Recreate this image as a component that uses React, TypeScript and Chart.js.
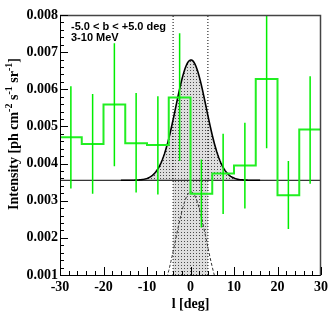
import React, { useEffect, useRef } from "react";
import { Chart, registerables } from "chart.js";

Chart.register(...registerables);

// ---- data ----
const binEdges = [-30, -25, -20, -15, -10, -5, 0, 5, 10, 15, 20, 25, 30];
const binValues = [0.00471, 0.00453, 0.00559, 0.00455, 0.0045, 0.00578, 0.00319, 0.00373, 0.00395, 0.00628, 0.00315, 0.00492];
const errLow = [0.00333, 0.00319, 0.00393, 0.00322, 0.00317, 0.00407, 0.00228, 0.00264, 0.00279, 0.00441, 0.00224, 0.00346];
const errHigh = [0.00608, 0.00587, 0.00724, 0.0059, 0.00581, 0.00751, 0.00411, 0.0048, 0.0051, 0.0082, 0.00407, 0.00635];
const xTicks = [-30, -20, -10, 0, 10, 20, 30];
const yTicks = [0.001, 0.002, 0.003, 0.004, 0.005, 0.006, 0.007, 0.008];
const fitBaseline = 0.00355;
const fitAmplitude = 0.00324;
const fitMean = 0.1;
const fitSigma = 3.5;
const regionLimits = [-4, 4];
const labelLines = ["-5.0 < b < +5.0 deg", "3-10 MeV"];
const xTitle = "l [deg]";
const yTitleParts: { t: string; sup: boolean }[] = [
  { t: "Intensity [ph cm", sup: false },
  { t: "-2", sup: true },
  { t: " s", sup: false },
  { t: "-1", sup: true },
  { t: " sr", sup: false },
  { t: "-1", sup: true },
  { t: "]", sup: false },
];

const SERIF = '"Liberation Serif", "Times New Roman", serif';
const SANS = '"Liberation Sans", Arial, sans-serif';

function gauss(x: number) {
  return fitAmplitude * Math.exp(-0.5 * ((x - fitMean) / fitSigma) ** 2);
}

const rootPlugin = {
  id: "rootFrame",
  afterDraw(chart: any) {
    const { ctx, chartArea: a, scales } = chart;
    const xs = scales.x;
    const ys = scales.y;
    ctx.save();
    // frame
    ctx.lineWidth = 1;
    ctx.strokeStyle = "#000";
    ctx.beginPath();
    ctx.moveTo(a.left + 0.5, a.top);
    ctx.lineTo(a.left + 0.5, a.bottom + 0.5);
    ctx.lineTo(a.right, a.bottom + 0.5);
    ctx.stroke();
    ctx.strokeStyle = "#444";
    ctx.lineWidth = 1.5;
    ctx.beginPath();
    ctx.moveTo(a.left, a.top + 0.5);
    ctx.lineTo(a.right - 0.5, a.top + 0.5);
    ctx.lineTo(a.right - 0.5, a.bottom + 0.5);
    ctx.stroke();

    // ticks (inward, ROOT-like)
    ctx.strokeStyle = "#000";
    ctx.lineWidth = 1;
    const yStep = yTicks[1] - yTicks[0];
    for (let i = 0; i < yTicks.length; i++) {
      const v = yTicks[i];
      const py = Math.round(ys.getPixelForValue(v)) + 0.5;
      ctx.beginPath();
      ctx.moveTo(a.left, py);
      ctx.lineTo(a.left + 8, py);
      ctx.stroke();
      if (i < yTicks.length - 1) {
        for (let k = 1; k < 5; k++) {
          const my = Math.round(ys.getPixelForValue(v + (yStep * k) / 5)) + 0.5;
          ctx.beginPath();
          ctx.moveTo(a.left, my);
          ctx.lineTo(a.left + 4, my);
          ctx.stroke();
        }
      }
    }
    const xStep = xTicks[1] - xTicks[0];
    for (let i = 0; i < xTicks.length; i++) {
      const v = xTicks[i];
      const px = Math.round(xs.getPixelForValue(v)) + 0.5;
      ctx.beginPath();
      ctx.moveTo(px, a.bottom);
      ctx.lineTo(px, a.bottom - 8);
      ctx.stroke();
      if (i < xTicks.length - 1) {
        for (let k = 1; k < 5; k++) {
          const mx = Math.round(xs.getPixelForValue(v + (xStep * k) / 5)) + 0.5;
          ctx.beginPath();
          ctx.moveTo(mx, a.bottom);
          ctx.lineTo(mx, a.bottom - 4);
          ctx.stroke();
        }
      }
    }

    // label box text
    ctx.fillStyle = "#000";
    ctx.font = `bold 11px ${SANS}`;
    ctx.textAlign = "left";
    ctx.textBaseline = "alphabetic";
    labelLines.forEach((line, i) => {
      ctx.fillText(line, a.left + 11, a.top + 15 + i * 11);
    });

    // y title with superscripts
    const mainFont = `bold 14px ${SERIF}`;
    const supFont = `bold 10px ${SERIF}`;
    let total = 0;
    for (const p of yTitleParts) {
      ctx.font = p.sup ? supFont : mainFont;
      total += ctx.measureText(p.t).width;
    }
    ctx.translate(18, (a.top + a.bottom) / 2 - 11);
    ctx.rotate(-Math.PI / 2);
    let cx = -total / 2;
    for (const p of yTitleParts) {
      ctx.font = p.sup ? supFont : mainFont;
      ctx.fillText(p.t, cx, p.sup ? -6 : 0);
      cx += ctx.measureText(p.t).width;
    }
    ctx.restore();
  },
};

export default function App() {
  const ref = useRef<HTMLCanvasElement>(null);

  useEffect(() => {
    document.body.style.margin = "0";
    const canvas = ref.current!;

    const pc = document.createElement("canvas");
    pc.width = 3;
    pc.height = 3;
    const pctx = pc.getContext("2d")!;
    pctx.fillStyle = "#dedede";
    pctx.fillRect(0, 0, 3, 3);
    pctx.fillStyle = "#4a4a4a";
    pctx.fillRect(1, 1, 1, 1);
    const pattern = canvas.getContext("2d")!.createPattern(pc, "repeat")!;

    const samples: number[] = [];
    for (let i = 0; i <= 240; i++) samples.push(-30 + i * 0.25);

    const upperCurve = samples.filter((x) => Math.abs(x) <= 16).map((x) => ({ x, y: fitBaseline + gauss(x) }));
    const lowerCurve = samples.filter((x) => Math.abs(x) <= 9).map((x) => ({ x, y: gauss(x) }));
    const regionCurve = samples
      .filter((x) => x >= regionLimits[0] && x <= regionLimits[1])
      .map((x) => ({ x, y: fitBaseline + gauss(x) }));
    const baselineLine = [
      { x: binEdges[0], y: fitBaseline },
      { x: binEdges[binEdges.length - 1], y: fitBaseline },
    ];
    const yMin = yTicks[0];
    const yMax = yTicks[yTicks.length - 1];
    const histData = binEdges.map((e, i) => ({ x: e, y: binValues[Math.min(i, binValues.length - 1)] }));
    const errData: { x: number; y: number | null }[] = [];
    binValues.forEach((_, i) => {
      const c = (binEdges[i] + binEdges[i + 1]) / 2;
      errData.push({ x: c, y: errLow[i] }, { x: c, y: errHigh[i] }, { x: c, y: null });
    });

    const chart = new Chart(canvas, {
      type: "line",
      data: {
        datasets: [
          {
            data: upperCurve,
            borderWidth: 0,
            borderColor: "rgba(0,0,0,0)",
            backgroundColor: pattern,
            fill: { value: fitBaseline },
            order: 10,
          },
          {
            data: regionCurve,
            borderWidth: 0,
            borderColor: "rgba(0,0,0,0)",
            backgroundColor: pattern,
            fill: "start",
            order: 9,
          },
          {
            data: [
              { x: regionLimits[0], y: yMin },
              { x: regionLimits[0], y: yMax },
            ],
            borderColor: "#000",
            borderWidth: 1,
            borderDash: [1, 2],
            fill: false,
            order: 8,
          },
          {
            data: [
              { x: regionLimits[1], y: yMin },
              { x: regionLimits[1], y: yMax },
            ],
            borderColor: "#000",
            borderWidth: 1,
            borderDash: [1, 2],
            fill: false,
            order: 8,
          },
          {
            data: lowerCurve,
            borderColor: "#333",
            borderWidth: 1,
            borderDash: [3, 2],
            fill: false,
            order: 7,
          },
          {
            data: baselineLine,
            borderColor: "#000",
            borderWidth: 1,
            fill: false,
            order: 6,
          },
          {
            data: upperCurve,
            borderColor: "#000",
            borderWidth: 1.6,
            fill: false,
            order: 5,
          },
          {
            data: histData,
            stepped: "before",
            borderColor: "#22ee22",
            borderWidth: 2,
            fill: false,
            order: 4,
          },
          {
            data: errData,
            borderColor: "#00ee00",
            borderWidth: 1.5,
            spanGaps: false,
            fill: false,
            order: 3,
          },
        ] as any,
      },
      options: {
        animation: false,
        responsive: false,
        maintainAspectRatio: false,
        layout: { padding: { top: 15, right: 10, left: 0, bottom: 0 } },
        plugins: { legend: { display: false }, tooltip: { enabled: false } },
        elements: { point: { radius: 0 }, line: { tension: 0 } },
        scales: {
          x: {
            type: "linear",
            min: binEdges[0],
            max: binEdges[binEdges.length - 1],
            grid: { display: false, drawTicks: false },
            border: { display: false },
            ticks: {
              font: { family: SERIF, weight: "bold", size: 14 },
              color: "#000",
              padding: 4,
              maxRotation: 0,
              autoSkip: false,
              callback: (v: any) => String(v),
            },
            title: {
              display: true,
              text: xTitle,
              color: "#000",
              font: { family: SERIF, weight: "bold", size: 14 },
              padding: { top: 0, bottom: 3 },
            },
            afterBuildTicks: (s: any) => {
              s.ticks = xTicks.map((v) => ({ value: v }));
            },
            afterFit: (s: any) => {
              s.height = 41;
            },
          },
          y: {
            type: "linear",
            min: yMin,
            max: yMax,
            grid: { display: false, drawTicks: false },
            border: { display: false },
            ticks: {
              font: { family: SERIF, weight: "bold", size: 14 },
              color: "#000",
              padding: 2,
              callback: (v: any) => Number(v).toFixed(3),
            },
            afterBuildTicks: (s: any) => {
              s.ticks = yTicks.map((v) => ({ value: v }));
            },
            afterFit: (s: any) => {
              s.width = 60;
            },
          },
        },
      } as any,
      plugins: [rootPlugin],
    });

    return () => chart.destroy();
  }, []);

  return (
    <div style={{ position: "fixed", left: 0, top: 0, width: 332, height: 316, background: "#fff" }}>
      <canvas ref={ref} width={332} height={316} style={{ display: "block" }} />
    </div>
  );
}
